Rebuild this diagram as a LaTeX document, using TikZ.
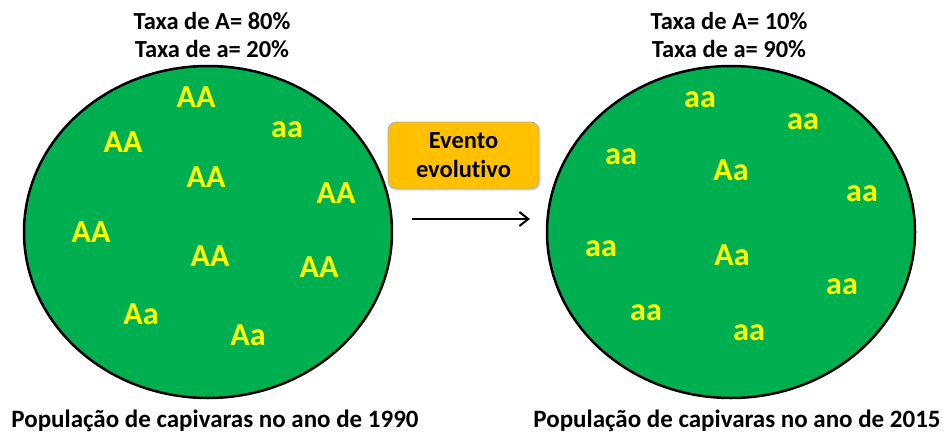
\documentclass[tikz,border=0pt]{standalone}
\usepackage{fontspec}
\setmainfont{Carlito}[Ligatures=NoCommon]
\definecolor{popgreen}{RGB}{0,176,80}
\definecolor{alleleyellow}{RGB}{255,255,0}
\definecolor{eventorange}{RGB}{255,192,0}
\definecolor{eventborder}{RGB}{165,180,200}
\usetikzlibrary{shapes.geometric,arrows.meta,shadows,positioning}

\begin{document}
\begin{tikzpicture}[x=1pt, y=-1pt, every node/.style={font=\bfseries\fontsize{24.5}{29}\selectfont}]
    \useasboundingbox (0,0) rectangle (945,434);
    \tikzset{
        population/.style={ellipse, draw=black, line width=2.5pt, fill=popgreen,
            minimum width=368pt, minimum height=332pt, inner sep=0pt},
        allele/.style={text=alleleyellow, inner sep=0pt,
            font=\bfseries\fontsize{32}{32}\selectfont},
        evtbox/.style={draw=eventborder, line width=0.8pt, fill=eventorange,
            rounded corners=8pt, minimum width=151pt, minimum height=67pt,
            align=center, drop shadow={opacity=0.25, shadow xshift=1.5pt, shadow yshift=-1.5pt}}
    }
    % the two populations
    \node[population] (pop1990) at (208,232) {};
    \node[population] (pop2015) at (731,232) {};
    \foreach \x/\y/\gen [count=\i] in {
        196/97/AA, 123/142/AA, 287/130/aa, 206/177/AA, 336/193/AA,
        91/232/AA, 210/256/AA, 319/267/AA, 141/314/Aa, 248/335/Aa
    } {
        \node[allele] (old\i) at (\x,\y) {\gen};
    }
    \foreach \x/\y/\gen [count=\i] in {
        700/100/aa, 803/122/aa, 621/157/aa, 731/170/Aa, 862/194/aa,
        601/249/aa, 732/255/Aa, 842/287/aa, 646/313/aa, 749/333/aa
    } {
        \node[allele] (new\i) at (\x,\y) {\gen};
    }
    % rates and captions
    \foreach \x/\year/\rateA/\ratea/\capx in {
        212/1990/80/20/215,
        729/2015/10/90/737
    } {
        \node[anchor=base] (rateA\year) at (\x,29) {Taxa de A= \rateA\%};
        \node[anchor=base] (ratea\year) at (\x,57) {Taxa de a= \ratea\%};
        \node[anchor=base, font=\bfseries\fontsize{25}{29}\selectfont] (caption\year) at (\capx,427) {População de capivaras no ano de \year};
    }
    % event
    \node[evtbox] (event) at (463.5,155.5) {Evento\\evolutivo};
    \coordinate (arrowtail) at (412,219);
    \coordinate (arrowtip) at (530,219);
    \draw[line width=2pt, -{Straight Barb[length=9pt,width=14pt]}] (arrowtail) -- (arrowtip);
\end{tikzpicture}
\end{document}
